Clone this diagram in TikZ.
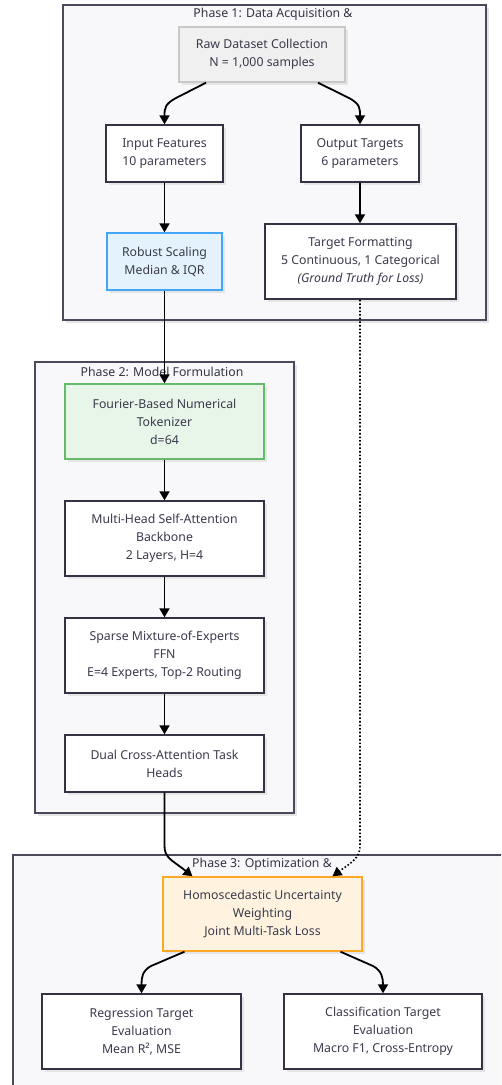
\documentclass[tikz,border=0pt]{standalone}
\usepackage{fontspec}
\setmainfont{Noto Sans}
\usetikzlibrary{arrows.meta,shadows}
\definecolor{txt}{HTML}{3A3A4C}
\definecolor{phasefill}{HTML}{F8F8FB}
\definecolor{phasedraw}{HTML}{4A4A5C}
\definecolor{nodedraw}{HTML}{333344}
\definecolor{rawfill}{HTML}{F0F0F0}
\definecolor{rawdraw}{HTML}{C8C8C8}
\definecolor{bluefill}{HTML}{E3F2FD}
\definecolor{bluedraw}{HTML}{42A5F5}
\definecolor{greenfill}{HTML}{E8F5E9}
\definecolor{greendraw}{HTML}{66BB6A}
\definecolor{orangefill}{HTML}{FFF3E0}
\definecolor{orangedraw}{HTML}{FFA726}
\tikzset{
  shad/.style={drop shadow={shadow xshift=3pt,shadow yshift=-3pt,fill=black!10,opacity=1}},
  phase/.style={draw=phasedraw,fill=phasefill,line width=1.4pt,shad,inner sep=0pt},
  box/.style={draw=nodedraw,fill=white,line width=1.4pt,align=center,text=txt,
    font=\fontsize{12.3}{18}\selectfont,inner sep=0pt,shad},
  title/.style={text=txt!90!black,font=\fontsize{12.3}{14}\selectfont,inner sep=0pt},
  arr/.style={line width=1.8pt,-{Triangle[width=10pt,length=9pt]}},
}
\begin{document}
\begin{tikzpicture}[x=1pt,y=-1pt]
\useasboundingbox (0,0) rectangle (501,1085);
\clip (0,0) rectangle (501,1085);
\fill[white] (0,0) rectangle (501,1085);
% phases
\node[phase,minimum width=423pt,minimum height=315pt] (p1) at (274.5,162.5) {};
\node[phase,minimum width=259pt,minimum height=451pt] (p2) at (164.5,587.5) {};
\node[phase,minimum width=507pt,minimum height=245pt] (p3) at (266.5,977.5) {};
\node[title] (t1) at (273,14) {Phase 1: Data Acquisition \&};
\node[title] (t2) at (162,372) {Phase 2: Model Formulation};
\node[title] (t3) at (262,864) {Phase 3: Optimization \&};
% nodes
\node[box,fill=rawfill,draw=rawdraw,minimum width=166pt,minimum height=55pt] (raw) at (262,54.5) {Raw Dataset Collection\\N = 1,000 samples};
\node[box,minimum width=117pt,minimum height=57pt] (inp) at (164.5,153.5) {Input Features\\10 parameters};
\node[box,minimum width=118pt,minimum height=57pt] (out) at (360,153.5) {Output Targets\\6 parameters};
\node[box,fill=bluefill,draw=bluedraw,minimum width=115pt,minimum height=57pt] (rob) at (164.5,261.5) {Robust Scaling\\Median \& IQR};
\node[box,minimum width=191pt,minimum height=75pt] (tgt) at (360.5,261.5) {Target Formatting\\5 Continuous, 1 Categorical\\\textit{(Ground Truth for Loss)}};
\node[box,fill=greenfill,draw=greendraw,minimum width=199pt,minimum height=75pt] (four) at (164.5,421.5) {Fourier-Based Numerical\\Tokenizer\\d=64};
\node[box,minimum width=199pt,minimum height=75pt] (mhsa) at (164.5,538.5) {Multi-Head Self-Attention\\Backbone\\2 Layers, H=4};
\node[box,minimum width=199pt,minimum height=75pt] (moe) at (164.5,655.5) {Sparse Mixture-of-Experts\\FFN\\E=4 Experts, Top-2 Routing};
\node[box,minimum width=199pt,minimum height=57pt] (dual) at (164.5,763.5) {Dual Cross-Attention Task\\Heads};
\node[box,fill=orangefill,draw=orangedraw,minimum width=199pt,minimum height=74pt] (homo) at (262.5,914) {Homoscedastic Uncertainty\\Weighting\\Joint Multi-Task Loss};
\node[box,minimum width=199pt,minimum height=75pt] (reg) at (141.5,1031.5) {Regression Target\\Evaluation\\Mean R², MSE};
\node[box,minimum width=198pt,minimum height=75pt] (cls) at (383,1031.5) {Classification Target\\Evaluation\\Macro F1, Cross-Entropy};
% connectors
\draw[arr] ([xshift=-56pt]raw.south) -- (176,98) .. controls (165,104) and (164.5,108) .. (inp.north);
\draw[arr] ([xshift=56pt]raw.south) -- (349,98) .. controls (360,104) and (360,108) .. (out.north);
\draw[arr] (inp) -- (rob);
\draw[arr] (out.south) -- (tgt.north -| out.south);
\draw[arr] (rob) -- (four);
\draw[arr] (four) -- (mhsa);
\draw[arr] (mhsa) -- (moe);
\draw[arr] (moe) -- (dual);
\draw[arr] (dual.south) -- (164.5,846) .. controls (164.5,858) and (172,860) .. ([xshift=-70pt]homo.north);
\draw[line width=1.6pt,dotted,-{Triangle[width=10pt,length=9pt]}] (tgt.south -| out.south) -- (360,846) .. controls (360,858) and (352,862) .. ([xshift=70pt]homo.north);
\draw[arr] ([xshift=-78pt]homo.south) -- (151,966) .. controls (142,971) and (141.5,978) .. (reg.north);
\draw[arr] ([xshift=78pt]homo.south) -- (373,966) .. controls (382,971) and (383,978) .. (cls.north);
\end{tikzpicture}
\end{document}
